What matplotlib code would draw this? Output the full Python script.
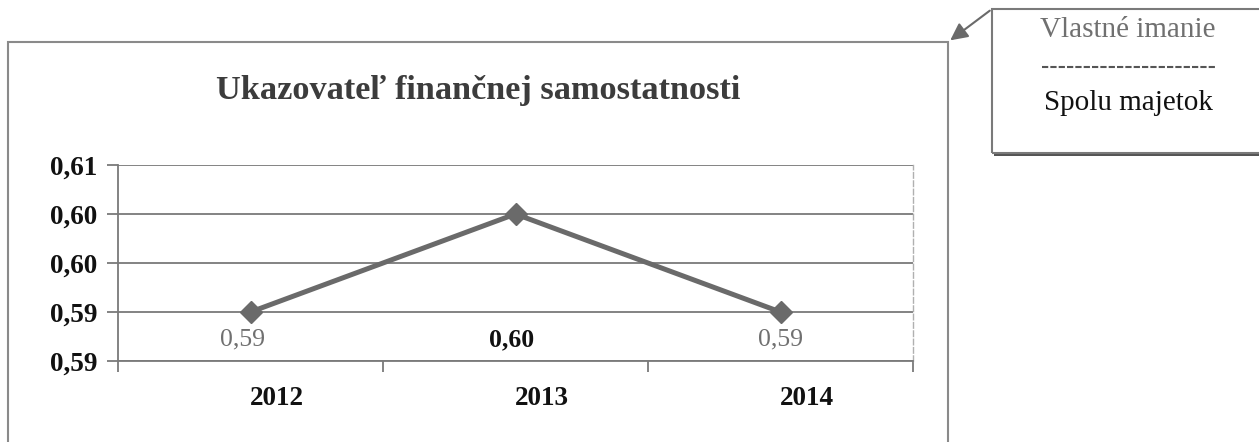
#!/usr/bin/env python
# -*- coding: utf-8 -*-

# plot.py - Ukazovatel financnej samostatnosti (line chart with callout box)
from decimal import Decimal, ROUND_HALF_UP

import matplotlib
matplotlib.use("Agg")
import matplotlib.pyplot as plt
from matplotlib.lines import Line2D
from matplotlib.patches import Rectangle, FancyArrowPatch
from matplotlib.ticker import FuncFormatter, FixedLocator
from matplotlib.transforms import blended_transform_factory, ScaledTranslation

# data
years = ["2012", "2013", "2014"]
ratio = [0.590, 0.600, 0.590]
y_ticks = [0.585, 0.590, 0.595, 0.600, 0.605]
title = "Ukazovateľ finančnej samostatnosti"
numerator = "Vlastné imanie"
denominator = "Spolu majetok"

W, H = 1259, 442
GRAY = "#6a6a6a"
SERIF = ["Liberation Serif", "DejaVu Serif"]


def excel_fmt(v, pos=None):
    """ round like Excel (half up) with a decimal comma """
    d = Decimal(str(round(v, 6))).quantize(Decimal("0.01"), rounding=ROUND_HALF_UP)
    return str(d).replace(".", ",")


def fx(px):
    return px / W


def fy(py):
    return 1 - py / H


def main():
    plt.rcParams["font.family"] = SERIF
    fig = plt.figure(figsize=(W / 100, H / 100), dpi=100)

    # outer chart frame
    fig.patches.append(Rectangle((fx(8), fy(460)), fx(948) - fx(8), fy(42) - fy(460),
                                 transform=fig.transFigure, fill=False,
                                 edgecolor="#8a8a8a", linewidth=1.5))

    fig.text(fx(478), fy(90), title, ha="center", va="center",
             fontsize=24.7, fontweight="bold", color="#3c3c3c")

    ax = fig.add_axes([fx(118), fy(361), fx(913) - fx(118), fy(165) - fy(361)])
    x = list(range(len(years)))
    ax.plot(x, ratio, color=GRAY, linewidth=3.6, marker="D", markersize=11,
            markerfacecolor=GRAY, markeredgecolor=GRAY, zorder=3)

    # data labels sit in a row near the bottom of the plot area
    lab_tr = blended_transform_factory(ax.transData, ax.transAxes)
    lab_dx = [-8, -4, 0]
    for i, v in enumerate(ratio):
        bold = i == 1
        ax.text(i, 0.11, excel_fmt(v),
                transform=lab_tr + ScaledTranslation(lab_dx[i] / 100, 0, fig.dpi_scale_trans),
                ha="center", va="center", fontsize=18.5,
                fontweight="bold" if bold else "normal",
                color="#111111" if bold else "#707070")

    ax.set_xlim(-0.5, len(years) - 0.5)
    ax.set_ylim(y_ticks[0], y_ticks[-1])
    ax.yaxis.set_major_locator(FixedLocator(y_ticks))
    ax.yaxis.set_major_formatter(FuncFormatter(excel_fmt))
    ax.grid(axis="y", color="#7a7a7a", linewidth=1.3)
    ax.set_axisbelow(True)

    ax.set_xticks(x)
    ax.set_xticklabels(years)
    ax.set_xticks([i - 0.5 for i in range(len(years) + 1)], minor=True)
    ax.tick_params(axis="x", which="major", length=0, pad=18)
    ax.tick_params(axis="x", which="minor", length=8, width=1.3, color="#7a7a7a",
                   direction="out")
    ax.tick_params(axis="y", length=8, width=1.3, color="#7a7a7a", pad=7)
    shift = ScaledTranslation(0.26, 0, fig.dpi_scale_trans)
    for lab in ax.get_xticklabels():
        lab.set_transform(lab.get_transform() + shift)
    for lab in ax.get_xticklabels() + ax.get_yticklabels():
        lab.set_fontsize(19.5)
        lab.set_fontweight("bold")
        lab.set_color("#111111")

    for side in ["left", "bottom"]:
        ax.spines[side].set_color("#7a7a7a")
        ax.spines[side].set_linewidth(1.3)
    ax.spines["top"].set_visible(False)
    ax.spines["right"].set_color("#b0b0b0")
    ax.spines["right"].set_linewidth(1.0)
    ax.spines["right"].set_linestyle((0, (4, 2)))

    # callout box with the formula
    fig.patches.append(Rectangle((fx(994), fy(156)), fx(1262) - fx(994), fy(152) - fy(156),
                                 transform=fig.transFigure, color="#555555", linewidth=0))
    fig.patches.append(Rectangle((fx(992), fy(153)), fx(1262) - fx(992), fy(9) - fy(153),
                                 transform=fig.transFigure, fill=False,
                                 edgecolor="#7a7a7a", linewidth=1.5))
    fig.patches.append(FancyArrowPatch((fx(992), fy(9)), (fx(948), fy(42)),
                                       transform=fig.transFigure, arrowstyle="-|>",
                                       mutation_scale=26, color="#6a6a6a", linewidth=1.5))
    fig.text(fx(1128), fy(30), numerator, ha="center", va="center",
             fontsize=21, color="#707070")
    fig.lines.append(Line2D([fx(1042), fx(1217)], [fy(67), fy(67)],
                            transform=fig.transFigure, color="#555555",
                            linewidth=1.5, linestyle=(0, (3, 1))))
    fig.text(fx(1128), fy(103), denominator, ha="center", va="center",
             fontsize=21, color="#111111")

    fig.savefig("out.png", dpi=100)


if __name__ == "__main__":
    main()
